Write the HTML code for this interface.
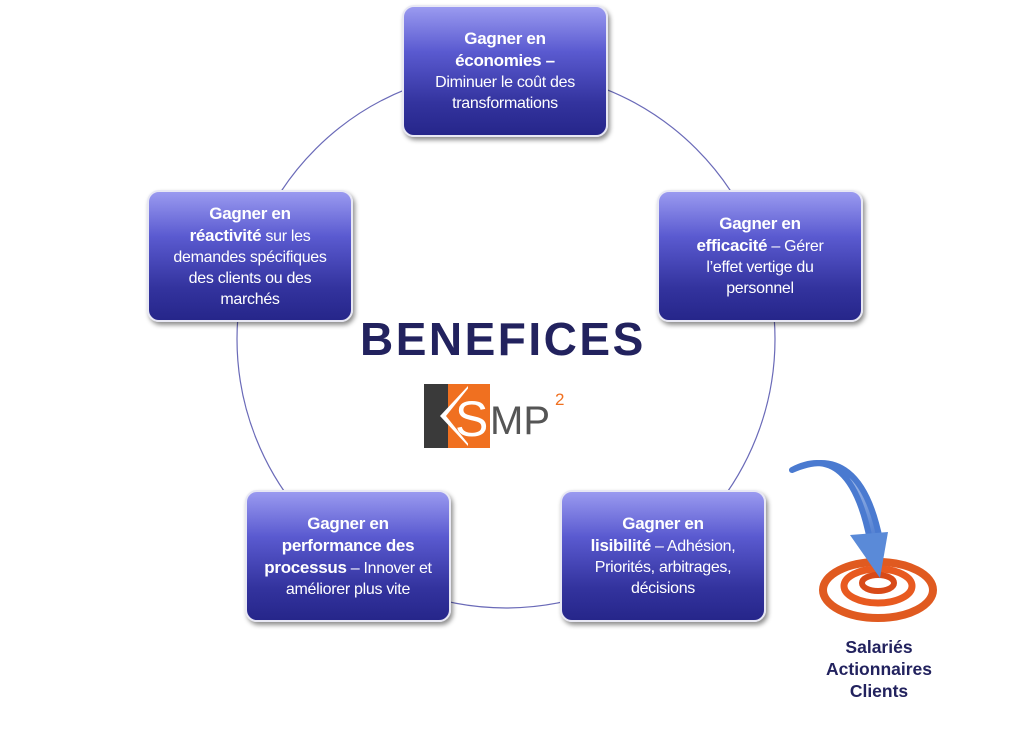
<!DOCTYPE html>
<html><head><meta charset="utf-8"><style>
body{margin:0;width:1021px;height:730px;background:#fff;position:relative;overflow:hidden;font-family:"Liberation Sans",sans-serif}
.b{position:absolute;width:206px;height:132px;box-sizing:border-box;border:2px solid #e8e8f4;border-radius:12px;
background:linear-gradient(#9a9af0 0%,#5a5ad0 35%,#33339e 75%,#26268a 100%);color:#fff;text-align:center;font-size:16px;line-height:21px;display:flex;align-items:center;justify-content:center;padding:0 16px;box-shadow:2px 3px 5px rgba(0,0,0,.45);letter-spacing:-0.3px}
.b b{font-size:17px}
</style></head><body>
<svg width="1021" height="730" style="position:absolute;left:0;top:0">
<circle cx="506" cy="339" r="269" fill="none" stroke="#6a6ab8" stroke-width="1.2"/>
<rect x="424" y="384" width="44" height="64" fill="#3a3a3a"/>
<rect x="448" y="384" width="42" height="64" fill="#f07020"/>
<polygon points="440,416 468,386 468,446" fill="#fff"/>
<polygon points="446,416 470,386 470,446" fill="#f07020"/>
<text x="455" y="436" font-size="50" fill="#fff" font-family="Liberation Sans">S</text>
<text x="490" y="434" font-size="40" fill="#555" font-family="Liberation Sans">MP</text>
<text x="555" y="405" font-size="17" fill="#f07020" font-family="Liberation Sans">2</text>
<defs><linearGradient id="ar" x1="0" y1="0" x2="1" y2="1"><stop offset="0" stop-color="#dfe8f8"/><stop offset="1" stop-color="#4a7ad0"/></linearGradient></defs>
<ellipse cx="878" cy="590" rx="55" ry="28" fill="none" stroke="#e05a20" stroke-width="8"/>
<ellipse cx="878" cy="586" rx="34" ry="17" fill="none" stroke="#e85a20" stroke-width="7"/>
<ellipse cx="878" cy="583" rx="16" ry="8" fill="none" stroke="#d84a18" stroke-width="6"/>
<path d="M792,470 Q850,440 870,540 L880,540 Q860,440 792,470Z" fill="url(#ar)" stroke="#4a7ad0" stroke-width="6" stroke-linejoin="round"/>
<polygon points="850,535 888,532 880,578" fill="#5a8ad8"/>
</svg>
<div class="b" style="left:402px;top:5px"><div><b>Gagner en<br>économies –</b><br>Diminuer le coût des transformations</div></div>
<div class="b" style="left:147px;top:190px"><div><b>Gagner en<br>réactivité</b> sur les demandes spécifiques des clients ou des marchés</div></div>
<div class="b" style="left:657px;top:190px"><div><b>Gagner en<br>efficacité</b> – Gérer<br>l’effet vertige du personnel</div></div>
<div class="b" style="left:245px;top:490px"><div><b>Gagner en performance des processus</b> – Innover et améliorer plus vite</div></div>
<div class="b" style="left:560px;top:490px"><div><b>Gagner en<br>lisibilité</b> – Adhésion, Priorités, arbitrages, décisions</div></div>
<div style="position:absolute;left:360px;top:312px;font-size:46px;font-weight:bold;color:#22225e;letter-spacing:2.5px">BENEFICES</div>
<div style="position:absolute;left:800px;top:636px;width:158px;text-align:center;font-size:17.5px;font-weight:bold;line-height:22px;color:#22225e">Salariés<br>Actionnaires<br>Clients</div>
</body></html>
